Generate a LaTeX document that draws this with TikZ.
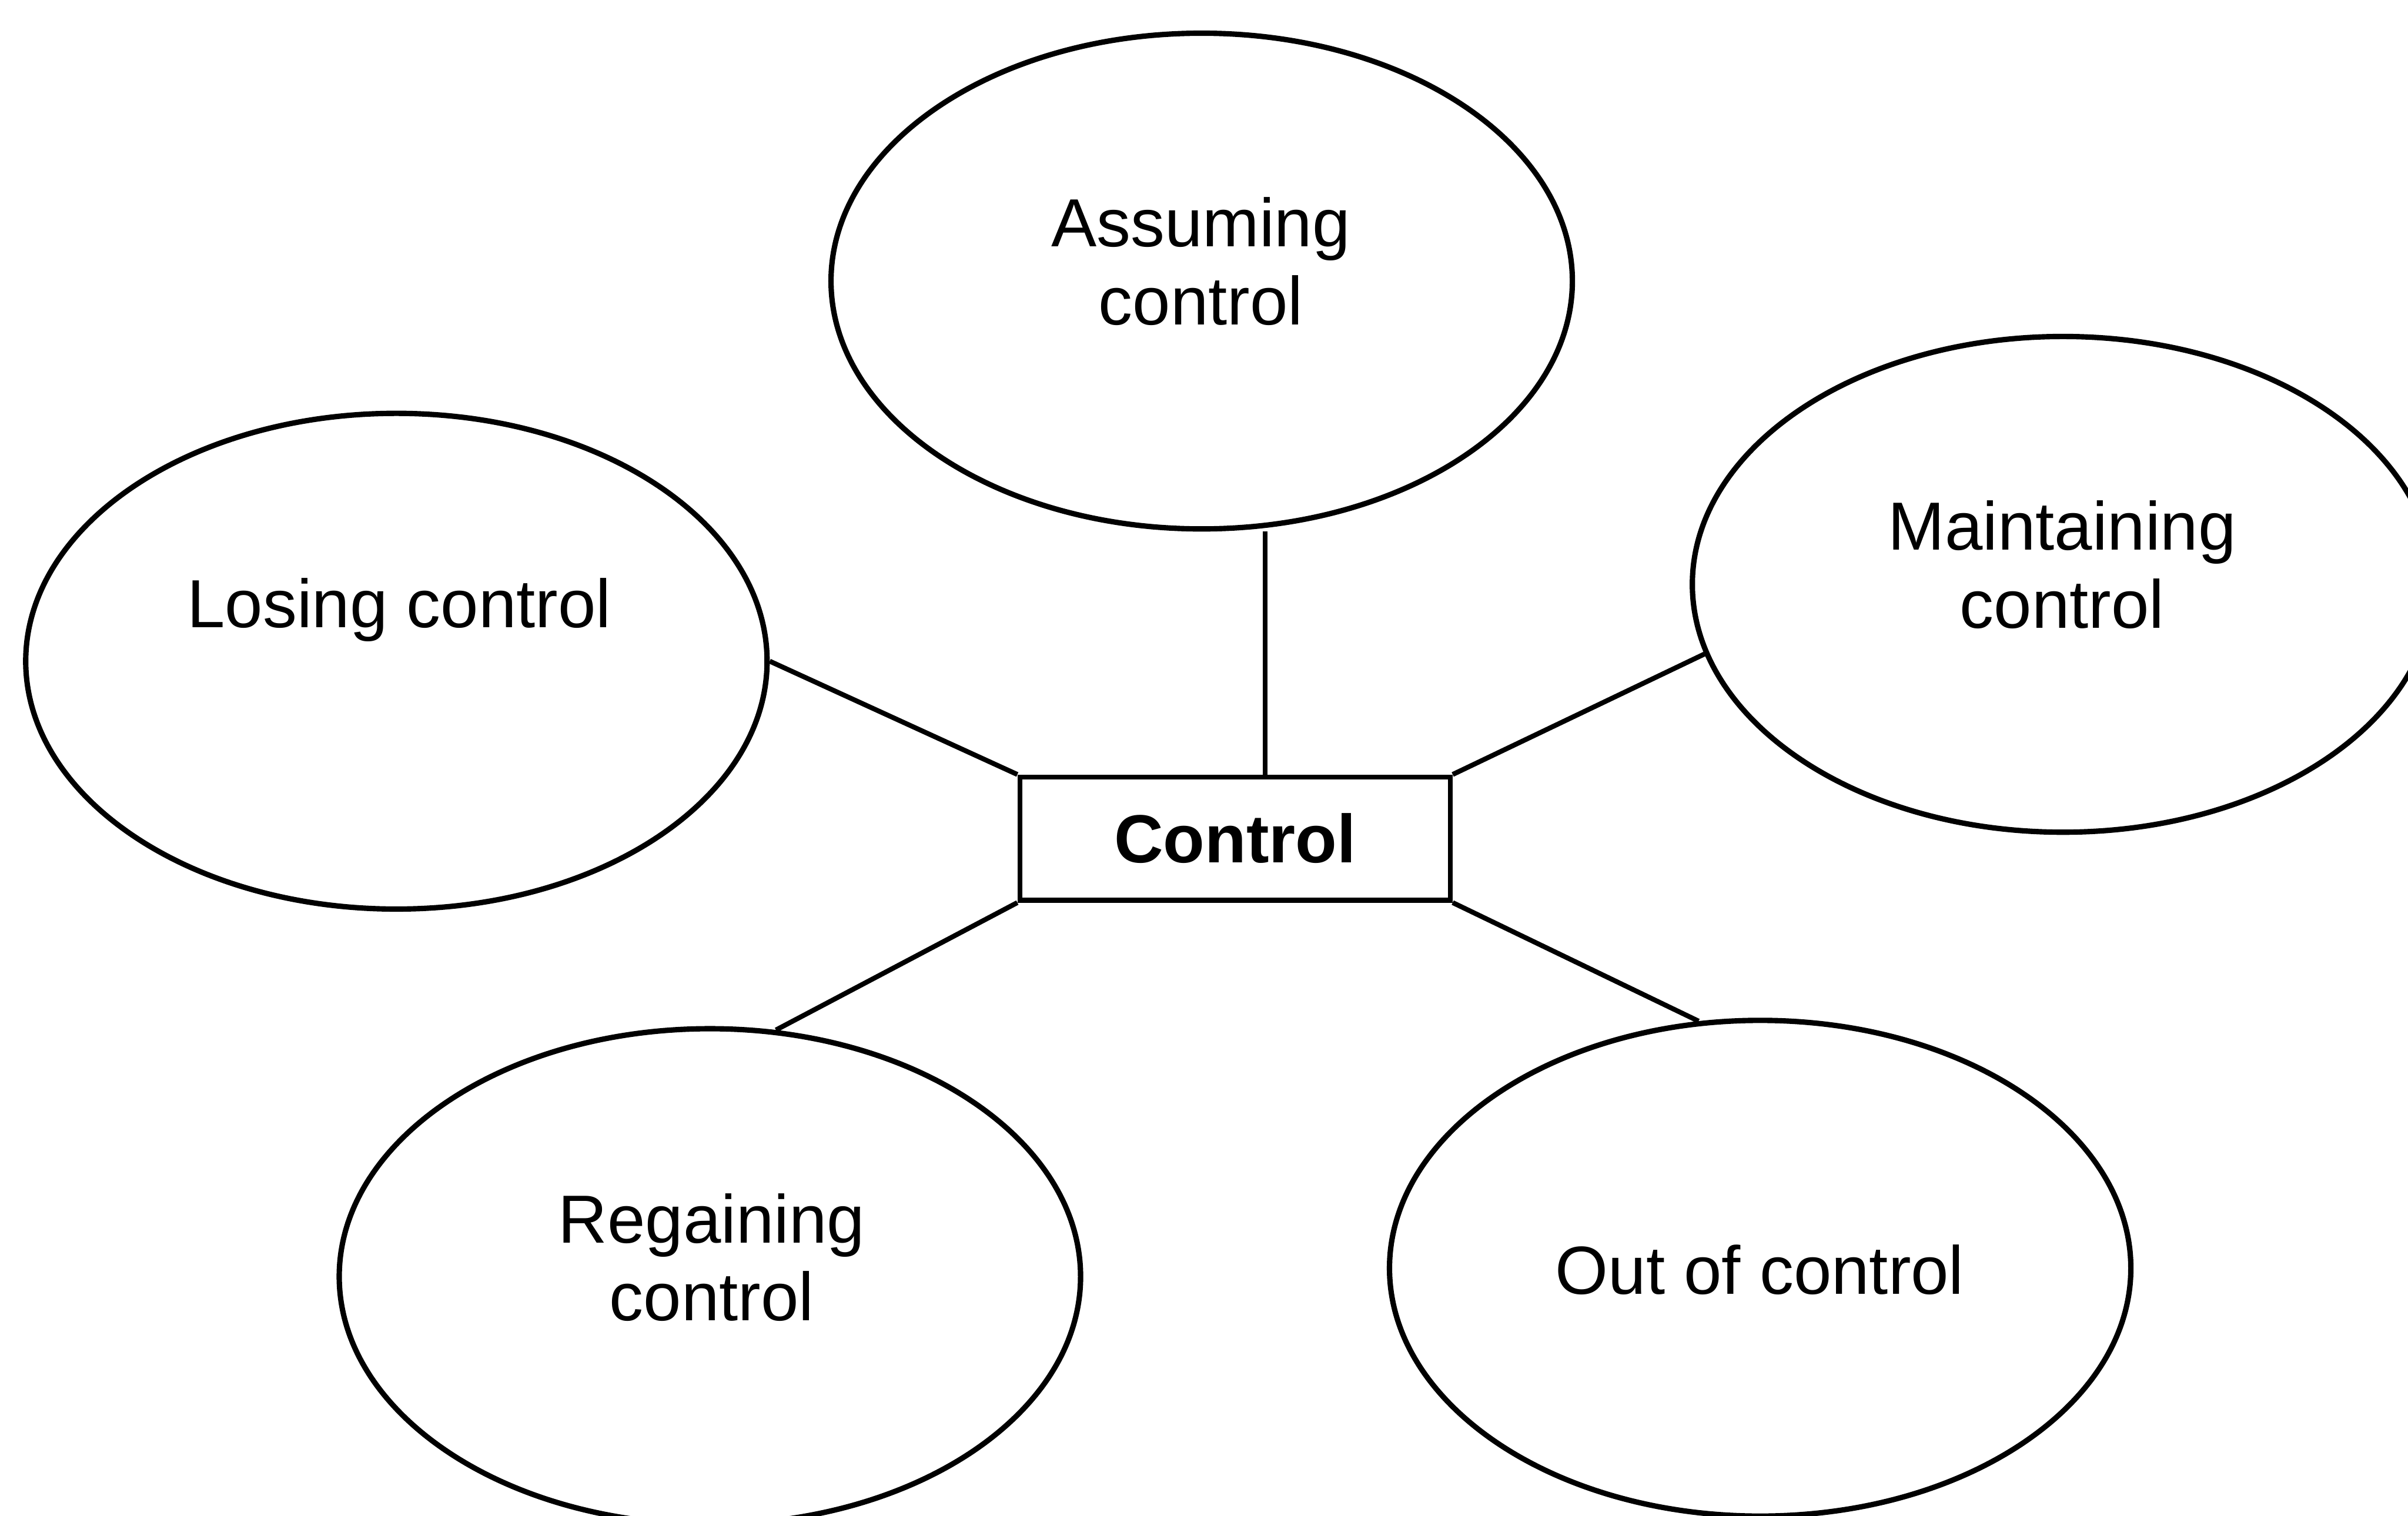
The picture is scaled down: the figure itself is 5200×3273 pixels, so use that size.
\documentclass[tikz,border=0pt]{standalone}
\usepackage{fontspec}
\setmainfont{Liberation Sans}
\usetikzlibrary{shapes.geometric}
\begin{document}
\begin{tikzpicture}[x=0.01cm,y=-0.01cm,
  phase/.style={draw, ellipse, line width=3.3pt, minimum width=16cm,
    minimum height=10.7cm, inner sep=0pt},
  hub/.style={draw, rectangle, line width=3pt, minimum width=9.29cm,
    minimum height=2.66cm, inner sep=0pt,
    font=\fontsize{41.8}{47.8}\selectfont\bfseries},
  caption/.style={align=center, inner sep=0pt, anchor=base,
    font=\fontsize{41.8}{47.8}\selectfont},
  link/.style={line width=3pt}]
\useasboundingbox (0,0) rectangle (5200,3273);
\fill[white] (0,0) rectangle (5200,3273);

% the five phases
\node[phase] (assume)   at (2595,607)  {};
\node[phase] (maintain) at (4455,1262) {};
\node[phase] (lose)     at (856,1428)  {};
\node[phase] (regain)   at (1533,2757) {};
\node[phase] (outc)     at (3801,2739) {};

% central box
\node[hub] (hub) at (2667,1811) {Control};

% phase labels (anchored on the baseline of the last line)
\node[caption] (assumeTxt)   at (2593,701)  {Assuming\\control};
\node[caption] (maintainTxt) at (4453,1356) {Maintaining\\control};
\node[caption] (loseTxt)     at (862,1355)  {Losing control};
\node[caption] (regainTxt)   at (1537,2852) {Regaining\\control};
\node[caption] (outcTxt)     at (3800,2795) {Out of control};

% spokes
\coordinate (upjoin) at ([xshift=0.65cm]hub.north);
\draw[link] (upjoin) -- (upjoin |- assume.south);
\draw[link] (lose.east) -- (hub.north west);
\draw[link] (maintain.191) -- (hub.north east);
\draw[link] (regain.75) -- (hub.south west);
\draw[link] (outc.104) -- (hub.south east);
\end{tikzpicture}
\end{document}
